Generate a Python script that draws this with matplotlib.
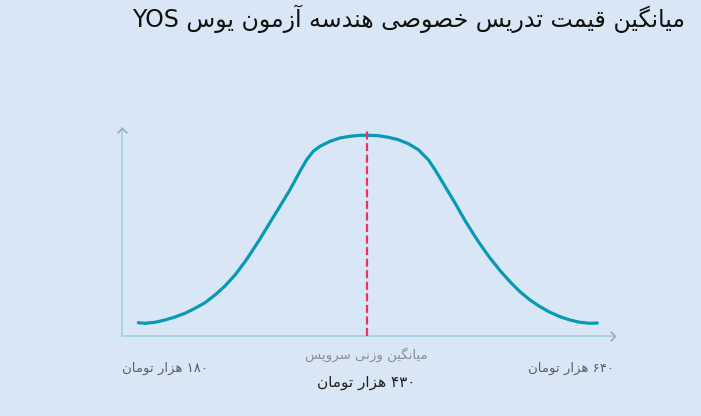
import matplotlib
matplotlib.use('Agg')
import matplotlib.pyplot as plt

# ---------------- data ----------------
# curve position along the price axis (0-100) and relative density (0-100)
curve_x = [3.37, 4.72, 6.75, 8.78, 10.80, 12.83, 14.86, 16.89, 18.91, 20.94,
           22.97, 24.99, 26.01, 28.04, 30.06, 32.09, 34.12, 36.14, 37.50,
           38.84, 40.20, 42.23, 44.25, 46.28, 48.31, 49.99, 52.02, 54.04,
           56.07, 58.10, 60.13, 62.15, 63.51, 65.54, 67.57, 69.59, 71.62,
           72.63, 74.66, 76.69, 78.71, 80.74, 82.77, 84.80, 86.82, 88.85,
           90.88, 92.90, 94.93, 96.41]
curve_y = [6.40, 6.11, 6.60, 7.70, 9.15, 10.93, 13.34, 16.03, 19.74, 24.07,
           29.37, 35.77, 39.33, 46.75, 54.65, 62.45, 70.44, 79.30, 84.88,
           88.93, 91.33, 93.74, 95.33, 96.15, 96.63, 96.63, 96.44, 95.67,
           94.51, 92.59, 89.70, 84.88, 80.07, 72.08, 64.04, 55.61, 47.91,
           44.30, 37.55, 31.54, 26.14, 21.33, 17.33, 14.11, 11.41, 9.29,
           7.70, 6.60, 6.11, 6.26]
mean_x = 49.67
mean_line_top = 99.2

prices = [180, 430, 640]            # thousand toman: min, weighted mean, max
title_fa = 'میانگین قیمت تدریس خصوصی هندسه آزمون یوس'
title_en = 'YOS'
mean_label = 'میانگین وزنی سرویس'
unit_label = 'هزار تومان'

# ---------------- persian shaping (no raqm in matplotlib) ----------------
FORMS = {
    '\u0627': ('\uFE8D', '\uFE8E', None, None),
    '\u0622': ('\uFE81', '\uFE82', None, None),
    '\u062F': ('\uFEA9', '\uFEAA', None, None),
    '\u0631': ('\uFEAD', '\uFEAE', None, None),
    '\u0632': ('\uFEAF', '\uFEB0', None, None),
    '\u0648': ('\uFEED', '\uFEEE', None, None),
    '\u062A': ('\uFE95', '\uFE96', '\uFE97', '\uFE98'),
    '\u062E': ('\uFEA5', '\uFEA6', '\uFEA7', '\uFEA8'),
    '\u0633': ('\uFEB1', '\uFEB2', '\uFEB3', '\uFEB4'),
    '\u0635': ('\uFEB9', '\uFEBA', '\uFEBB', '\uFEBC'),
    '\u0642': ('\uFED5', '\uFED6', '\uFED7', '\uFED8'),
    '\u0645': ('\uFEE1', '\uFEE2', '\uFEE3', '\uFEE4'),
    '\u0646': ('\uFEE5', '\uFEE6', '\uFEE7', '\uFEE8'),
    '\u0647': ('\uFEE9', '\uFEEA', '\uFEEB', '\uFEEC'),
    '\u06CC': ('\uFBFC', '\uFBFD', '\uFBFE', '\uFBFF'),
    '\u06AF': ('\uFB92', '\uFB93', '\uFB94', '\uFB95'),
}


def fa(s):
    out = []
    for i, c in enumerate(s):
        f = FORMS.get(c)
        if f is None:
            out.append(c)
            continue
        prev = s[i - 1] if i > 0 else ''
        nxt = s[i + 1] if i + 1 < len(s) else ''
        jp = prev in FORMS and FORMS[prev][2] is not None
        jn = f[2] is not None and nxt in FORMS
        if jp and jn:
            out.append(f[3])
        elif jp:
            out.append(f[1])
        elif jn:
            out.append(f[2])
        else:
            out.append(f[0])
    return ''.join(out)[::-1]


def fa_num(n):
    return str(n).translate(str.maketrans('0123456789', '۰۱۲۳۴۵۶۷۸۹'))


def price_text(n):
    return fa(unit_label) + ' ' + fa_num(n)


# ---------------- plotting ----------------
plt.rcParams['font.family'] = ['DejaVu Sans']
bg = '#d9e6f5'
W, H = 701, 416
fig = plt.figure(figsize=(W / 100, H / 100), dpi=100, facecolor=bg)

ax = fig.add_axes([121.7 / W, 1 - 336 / H, (615 - 121.7) / W, (336 - 128.3) / H])
ax.set_facecolor(bg)
ax.set_xlim(0, 100)
ax.set_ylim(0, 100)

ax.plot(curve_x, curve_y, color='#0899b6', lw=2.3, solid_capstyle='round',
        solid_joinstyle='round', zorder=3)
ax.plot([mean_x, mean_x], [0, mean_line_top], color='#f52d62', lw=1.6,
        dashes=(3.6, 1.6), zorder=4, clip_on=False)

for side in ['top', 'right']:
    ax.spines[side].set_visible(False)
for side in ['left', 'bottom']:
    ax.spines[side].set_color('#a5d6e6')
    ax.spines[side].set_linewidth(1.4)
ax.set_xticks([])
ax.set_yticks([])

# axis arrow heads
ax.plot([100], [0], marker=[(-1, 1), (0, 0), (-1, -1)], ms=7, mfc='none',
        mec='#9aa7ae', mew=1.1, clip_on=False, zorder=5)
ax.plot([0], [100], marker=[(-1, -1), (0, 0), (1, -1)], ms=7, mfc='none',
        mec='#9aa7ae', mew=1.1, clip_on=False, zorder=5)

# texts
fig.text(685 / W, 1 - 19 / H, title_en + ' ' + fa(title_fa), ha='right',
         va='center', fontsize=17, color='#111111')
fig.text(366 / W, 1 - 355 / H, fa(mean_label), ha='center', va='center',
         fontsize=9.5, color='#8a8f96')
fig.text(366 / W, 1 - 382 / H, price_text(prices[1]), ha='center',
         va='center', fontsize=11, color='#222222')
fig.text(121.7 / W, 1 - 368 / H, price_text(prices[0]), ha='left',
         va='center', fontsize=9.5, color='#5a5f66')
fig.text(614 / W, 1 - 368 / H, price_text(prices[2]), ha='right',
         va='center', fontsize=9.5, color='#5a5f66')

fig.savefig('out.png', dpi=100, facecolor=bg)
